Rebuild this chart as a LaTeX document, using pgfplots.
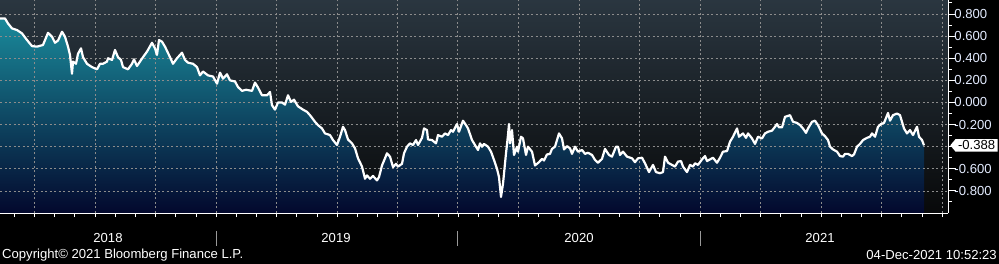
\documentclass[border=0pt]{standalone}
\usepackage{fontspec}
\setmainfont{Liberation Sans}
\usepackage{pgfplots}
\pgfplotsset{compat=1.18}
\usepackage{pgfplotstable}
\usetikzlibrary{shapes.symbols}
\definecolor{bgtop}{RGB}{42,54,64}
\definecolor{bgbot}{RGB}{8,9,10}
\definecolor{areatop}{RGB}{26,138,155}
\definecolor{areamid}{RGB}{13,72,108}
\definecolor{areabot}{RGB}{3,8,45}
\definecolor{gridc}{RGB}{140,140,140}
\definecolor{labc}{RGB}{228,236,255}
\newcommand{\bbfont}{\fontsize{13.1bp}{15bp}\selectfont}

\pgfplotstableread{
x y
0 0.76
5 0.76
8 0.715
12 0.67
17 0.655
22 0.625
27 0.565
32 0.51
37 0.505
43 0.52
48 0.63
52 0.595
55 0.54
58 0.56
62 0.64
65 0.595
68 0.505
70 0.43
72 0.26
73 0.37
76 0.35
78 0.44
81 0.49
83 0.41
87 0.35
92 0.32
97 0.30
100 0.35
103 0.35
107 0.37
108 0.40
112 0.385
115 0.475
118 0.41
121 0.385
123 0.32
128 0.30
132 0.35
134 0.39
137 0.33
140 0.37
143 0.41
147 0.46
152 0.54
155 0.49
157 0.43
159 0.565
162 0.55
165 0.505
170 0.41
173 0.35
177 0.40
182 0.45
185 0.385
188 0.36
193 0.35
197 0.32
200 0.245
203 0.28
208 0.245
213 0.235
217 0.17
220 0.27
223 0.215
227 0.255
230 0.20
235 0.19
238 0.14
242 0.105
246 0.115
252 0.105
255 0.18
258 0.135
262 0.065
267 0.065
270 0.095
272 -0.025
275 -0.065
278 0.0
282 0.0
285 -0.02
288 0.065
291 0.005
294 0.025
298 -0.035
303 -0.065
307 -0.085
310 -0.115
315 -0.175
318 -0.205
322 -0.235
325 -0.28
330 -0.295
333 -0.34
337 -0.385
340 -0.31
343 -0.22
345 -0.25
348 -0.335
352 -0.37
355 -0.415
358 -0.505
362 -0.58
365 -0.69
367 -0.66
370 -0.69
373 -0.665
377 -0.705
379 -0.675
382 -0.57
385 -0.505
387 -0.46
390 -0.49
393 -0.585
396 -0.555
398 -0.58
402 -0.555
404 -0.46
407 -0.40
410 -0.37
413 -0.385
416 -0.34
418 -0.385
422 -0.32
424 -0.235
427 -0.25
428 -0.335
432 -0.34
436 -0.37
438 -0.295
442 -0.31
445 -0.28
448 -0.295
451 -0.25
453 -0.265
457 -0.195
459 -0.265
463 -0.165
466 -0.205
468 -0.235
472 -0.34
475 -0.385
478 -0.43
480 -0.37
482 -0.40
484 -0.375
488 -0.40
491 -0.445
494 -0.52
497 -0.60
499 -0.675
501 -0.855
503 -0.735
506 -0.46
508 -0.295
509 -0.195
510 -0.37
512 -0.25
514 -0.475
517 -0.40
518 -0.445
521 -0.31
523 -0.325
526 -0.475
528 -0.40
532 -0.445
535 -0.57
539 -0.54
542 -0.51
544 -0.525
547 -0.47
550 -0.465
552 -0.42
555 -0.40
559 -0.28
562 -0.325
564 -0.425
567 -0.395
570 -0.415
572 -0.465
575 -0.40
578 -0.445
582 -0.43
585 -0.465
588 -0.455
592 -0.475
595 -0.52
598 -0.545
602 -0.51
605 -0.42
609 -0.475
612 -0.49
616 -0.40
618 -0.40
620 -0.475
623 -0.445
627 -0.49
632 -0.505
635 -0.54
638 -0.505
642 -0.50
645 -0.55
649 -0.63
653 -0.565
656 -0.63
660 -0.64
663 -0.63
665 -0.49
668 -0.545
672 -0.565
675 -0.58
678 -0.535
681 -0.53
683 -0.58
687 -0.63
690 -0.565
693 -0.58
695 -0.55
698 -0.565
702 -0.515
705 -0.485
707 -0.53
710 -0.515
713 -0.50
717 -0.545
720 -0.50
723 -0.445
727 -0.44
730 -0.355
733 -0.31
737 -0.235
739 -0.31
743 -0.28
746 -0.32
748 -0.28
752 -0.325
755 -0.375
758 -0.31
762 -0.325
765 -0.28
768 -0.265
772 -0.255
775 -0.22
777 -0.195
779 -0.225
782 -0.225
785 -0.13
790 -0.115
793 -0.175
797 -0.185
800 -0.205
803 -0.235
806 -0.275
808 -0.235
812 -0.175
815 -0.165
818 -0.205
822 -0.28
825 -0.305
828 -0.34
830 -0.40
833 -0.425
837 -0.445
840 -0.485
843 -0.49
845 -0.465
848 -0.465
852 -0.485
854 -0.47
857 -0.40
860 -0.375
863 -0.34
867 -0.32
870 -0.31
872 -0.28
875 -0.31
878 -0.22
881 -0.195
884 -0.185
888 -0.095
890 -0.165
893 -0.115
897 -0.10
900 -0.115
902 -0.175
904 -0.235
907 -0.28
910 -0.25
913 -0.295
917 -0.22
919 -0.31
922 -0.34
924 -0.388
}\series

\begin{document}
\begin{tikzpicture}
\fill[black] (0bp,0bp) rectangle (999bp,264bp);
\begin{axis}[
  at={(0bp,51bp)}, anchor=south west,
  scale only axis, width=948bp, height=213bp,
  xmin=0, xmax=948, ymin=-1, ymax=0.927,
  axis x line*=bottom, axis y line*=right,
  axis line style={white, line width=0.9bp, -},
  axis on top,
  axis background/.style={top color=bgtop, bottom color=bgbot},
  clip=true,
  tick align=outside,
  xtick={14.33,34.5,...,943},
  xticklabels={},
  xtick style={white, line width=0.7bp, /pgfplots/major tick length=4bp},
  ytick={-0.8,-0.6,-0.4,-0.2,0,0.2,0.4,0.6,0.8},
  yticklabels={-0.800,-0.600,{},-0.200,0.000,0.200,0.400,0.600,0.800},
  minor ytick={-0.9,-0.7,-0.5,-0.3,-0.1,0.1,0.3,0.5,0.7,0.9},
  ytick style={white, line width=1bp, /pgfplots/major tick length=8bp, /pgfplots/minor tick length=4bp},
  yticklabel pos=right,
  yticklabel style={font=\bbfont, text=labc, inner xsep=2bp},
]
\addplot[draw=none, top color=areatop, middle color=areamid, bottom color=areabot]
  table[x=x,y=y]{\series} |- (axis cs:0,-1) -- cycle;
\pgfplotsinvokeforeach{-0.8,-0.6,-0.4,-0.2,0,0.2,0.4,0.6,0.8}{
  \draw[gridc, line width=0.6bp, dash pattern=on 2bp off 2.5bp] (axis cs:0,#1) -- (axis cs:948,#1);
}
\pgfplotsinvokeforeach{34.5,95,155.5,216,276.5,337,397.5,457,518.5,579,639.5,700,760.5,821,881.5,942}{
  \draw[gridc, line width=0.6bp, dash pattern=on 2bp off 2.5bp] (axis cs:#1,-1) -- (axis cs:#1,0.927);
}
\addplot[white, line width=2.2bp, line join=round] table[x=x,y=y]{\series};
\coordinate (lastv) at (axis cs:948,-0.388);
\end{axis}
\node[signal, signal to=west, signal pointer angle=100, fill=white, text=black,
      font=\bbfont, inner xsep=2.5bp, inner ysep=1bp, anchor=west, minimum height=12.5bp]
  at ([xshift=2bp]lastv) {-0.388};
\foreach \xx in {216,457,700}{
  \draw[gray!80, line width=0.8bp] (\xx bp,33bp) -- (\xx bp,18bp);
}
\node[white, font=\bbfont] at (108bp,26bp) {2018};
\node[white, font=\bbfont] at (336bp,26bp) {2019};
\node[white, font=\bbfont] at (579bp,26bp) {2020};
\node[white, font=\bbfont] at (820bp,26bp) {2021};
\node[white, font=\bbfont, anchor=west, inner sep=0pt] at (2bp,9bp) {Copyright© 2021 Bloomberg Finance L.P.};
\node[white, font=\bbfont, anchor=east, inner sep=0pt] at (997bp,9bp) {04-Dec-2021 10:52:23};
\pgfresetboundingbox
\useasboundingbox (0bp,0bp) rectangle (999bp,264bp);
\end{tikzpicture}
\end{document}
